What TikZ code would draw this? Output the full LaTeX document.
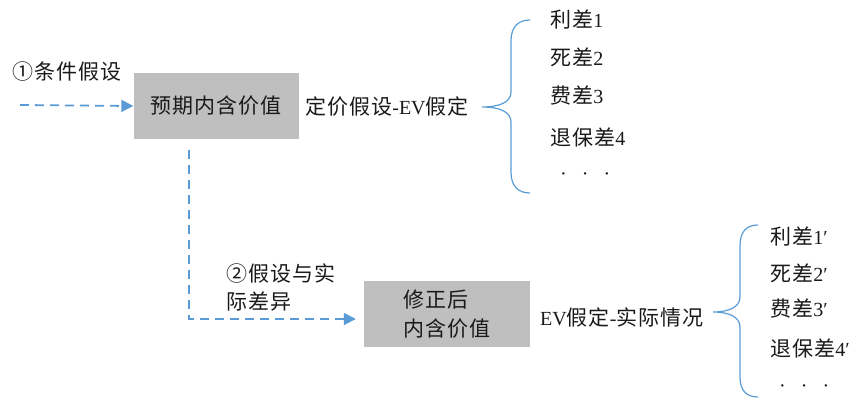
\documentclass[tikz,border=0pt]{standalone}
\usepackage{fontspec}
\setmainfont{Liberation Serif}
\newfontfamily\cjk{Noto Sans CJK SC}[Scale=1.05,LetterSpace=5]
\usetikzlibrary{arrows.meta,calc}
\definecolor{dashblue}{HTML}{5B9BD5}
\definecolor{boxgray}{HTML}{BFBFBF}
\definecolor{txt}{HTML}{1A1A1A}
\begin{document}
\begin{tikzpicture}[x=1pt,y=-1pt,
 every node/.style={text=txt, font=\fontsize{20}{24}\selectfont, inner sep=0pt},
 grayblock/.style={fill=boxgray, draw=none, minimum width=165pt, minimum height=66pt},
 lbl/.style={anchor=west},
 dasharrow/.style={draw=dashblue, line width=1.8pt, dash pattern=on 9pt off 6pt, -{Triangle[length=12pt,width=12pt]}},
 bracestyle/.style={draw=dashblue, line width=1.2pt}
]
\useasboundingbox (0,0) rectangle (858,399);

% first block
\node[lbl] (c1) at (12,72) {\cjk ①条件假设};
\node[grayblock] (b1) at (216,106) {\cjk 预期内含价值};
\node[lbl] (a1) at (305,107) {{\cjk 定价假设}-EV{\cjk 假定}};
\node[lbl] (p1) at (550,20) {{\cjk 利差}1};
\node[lbl] (p2) at (550,57) {{\cjk 死差}2};
\node[lbl] (p3) at (550,95) {{\cjk 费差}3};
\node[lbl] (p4) at (550,137) {{\cjk 退保差}4};
\node[lbl] (p5) at (560,177) {·\hspace{15pt}·\hspace{15pt}·};

\draw[bracestyle] (530,20) .. controls (518,20) and (511,27) .. (511,41) -- (511,92)
  .. controls (511,102) and (500,107) .. (482,107)
  .. controls (500,107) and (511,112) .. (511,122) -- (511,172)
  .. controls (511,186) and (518,193) .. (530,193);

% second block
\node[lbl, anchor=north west, align=left, font=\fontsize{20}{28}\selectfont] (c2) at (226,264) {\cjk ②假设与实\\\cjk 际差异};
\node[grayblock, minimum width=166pt, align=left, font=\fontsize{20}{29}\selectfont] (b2) at (447,314) {\cjk 修正后\\\cjk 内含价值};
\node[lbl] (a2) at (540,317) {EV{\cjk 假定}-{\cjk 实际情况}};
\node[lbl] (q1) at (770,237) {{\cjk 利差}1′};
\node[lbl] (q2) at (770,273) {{\cjk 死差}2′};
\node[lbl] (q3) at (770,308) {{\cjk 费差}3′};
\node[lbl] (q4) at (770,348) {{\cjk 退保差}4′};
\node[lbl] (q5) at (779,389) {·\hspace{15pt}·\hspace{15pt}·};

\draw[bracestyle] (758,225) .. controls (746,225) and (740,232) .. (740,246) -- (740,297)
  .. controls (740,307) and (729,312) .. (713,312)
  .. controls (729,312) and (740,317) .. (740,327) -- (740,377)
  .. controls (740,390) and (746,397) .. (758,397);

% connectors
\coordinate (s1) at (20,105);
\draw[dasharrow] (s1) -- (b1.west);
\coordinate (v1) at (189,150);
\draw[dasharrow, shorten >=8pt] (v1) |- ($(b2.west)+(0,5)$);
\end{tikzpicture}
\end{document}
